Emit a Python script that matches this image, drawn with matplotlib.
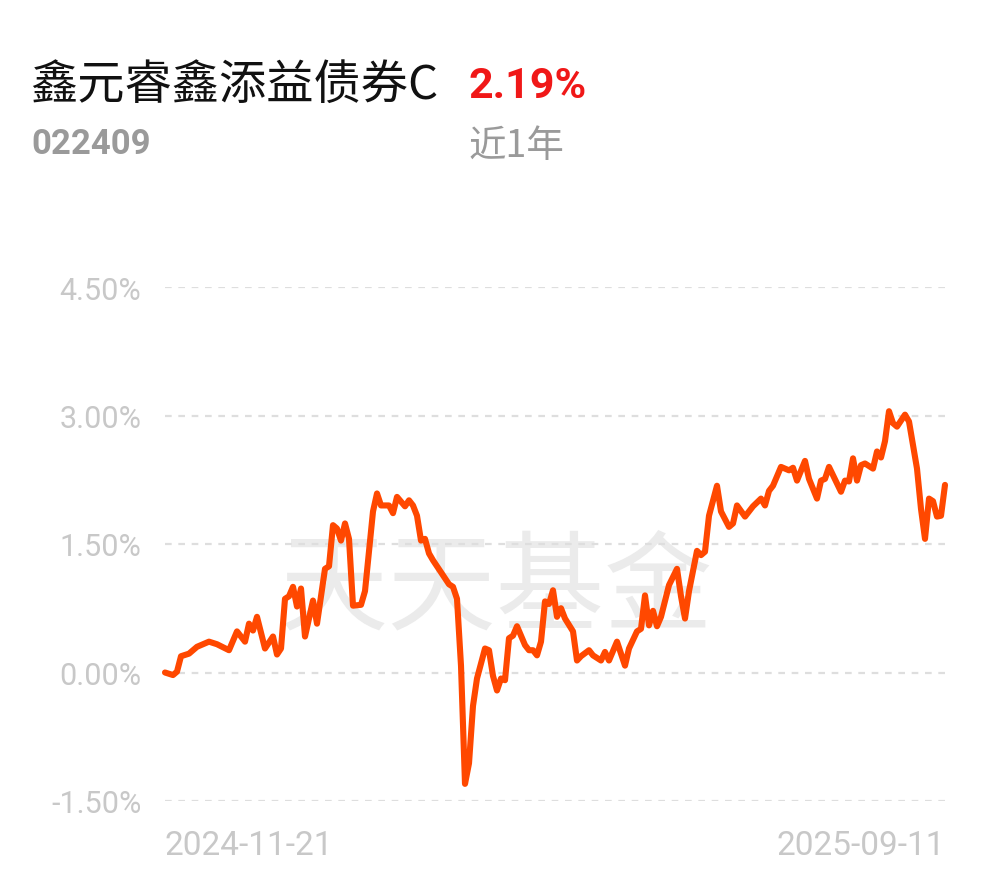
import matplotlib
matplotlib.use('Agg')
from matplotlib import pyplot as plt
from matplotlib.ticker import FuncFormatter

FUND_NAME = '鑫元睿鑫添益债券C'
FUND_CODE = '022409'
RETURN_TEXT = '2.19%'
PERIOD_TEXT = '近1年'
START_DATE = '2024-11-21'
END_DATE = '2025-09-11'
WATERMARK = '天天基金'

# trading-day index and cumulative return (%)
days = [0, 2, 3, 4, 6, 8, 11, 13, 16, 18, 20, 21, 22, 23, 25, 27, 28, 29, 30,
        31, 32, 33, 34, 35, 36, 37, 38, 40, 41, 42, 43, 44, 45, 46, 47, 49, 50,
        51, 52, 53, 54, 56, 57, 58, 60, 61, 62, 63, 64, 65, 66, 67, 68, 70, 71,
        72, 73, 74, 75, 76, 77, 78, 80, 81, 82, 83, 84, 85, 86, 87, 88, 90, 91,
        92, 93, 94, 95, 96, 97, 98, 99, 100, 102, 103, 104, 106, 107, 109, 110,
        111, 113, 115, 116, 118, 119, 120, 121, 122, 123, 124, 126, 128, 129,
        130, 131, 133, 134, 135, 136, 138, 139, 141, 142, 143, 145, 147, 149,
        150, 151, 152, 154, 156, 157, 158, 160, 161, 163, 164, 165, 166, 169,
        170, 171, 172, 173, 174, 175, 177, 178, 179, 180, 181, 182, 183, 185,
        186, 188, 189, 190, 191, 192, 193, 194, 195]
returns = [0.00, -0.03, 0.01, 0.19, 0.22, 0.30, 0.36, 0.33, 0.26, 0.48, 0.36,
           0.57, 0.49, 0.65, 0.28, 0.42, 0.21, 0.28, 0.86, 0.89, 1.00, 0.77,
           0.98, 0.42, 0.63, 0.84, 0.57, 1.21, 1.24, 1.72, 1.68, 1.54, 1.74,
           1.56, 0.78, 0.79, 0.95, 1.41, 1.88, 2.09, 1.95, 1.95, 1.86, 2.05,
           1.94, 2.01, 1.95, 1.83, 1.54, 1.56, 1.39, 1.31, 1.24, 1.10, 1.03,
           1.00, 0.86, 0.08, -1.30, -1.06, -0.39, -0.07, 0.28, 0.26, -0.04,
           -0.21, -0.07, -0.09, 0.40, 0.43, 0.54, 0.32, 0.26, 0.26, 0.20, 0.36,
           0.83, 0.80, 0.96, 0.65, 0.75, 0.63, 0.48, 0.14, 0.19, 0.26, 0.20,
           0.14, 0.24, 0.14, 0.36, 0.08, 0.28, 0.48, 0.51, 0.90, 0.55, 0.72,
           0.54, 0.65, 1.02, 1.21, 0.89, 0.63, 0.95, 1.42, 1.37, 1.41, 1.83,
           2.18, 1.88, 1.70, 1.74, 1.95, 1.82, 1.94, 2.03, 1.95, 2.12, 2.18,
           2.40, 2.36, 2.39, 2.24, 2.47, 2.26, 2.03, 2.24, 2.26, 2.40, 2.11,
           2.24, 2.23, 2.50, 2.24, 2.42, 2.44, 2.38, 2.58, 2.51, 2.70, 3.05,
           2.91, 2.87, 3.01, 2.93, 2.38, 1.91, 1.56, 2.03, 2.00, 1.82, 1.83,
           2.19]
y_ticks = [-1.5, 0.0, 1.5, 3.0, 4.5]

CJK = ['Noto Sans CJK SC', 'DejaVu Sans']
NUM = ['Roboto', 'DejaVu Sans']
LINE_COLOR = '#ff4800'
TICK_COLOR = '#c8c8c8'


def main():
    fig = plt.figure(figsize=(9.9, 8.78), dpi=100)
    ax = fig.add_axes([165 / 990, 1 - 802 / 878, 780 / 990, 514 / 878])

    ax.plot(days, returns, color=LINE_COLOR, linewidth=4.4,
            solid_joinstyle='round', solid_capstyle='round', zorder=3, clip_on=False)

    ax.set_xlim(days[0], days[-1])
    ax.set_ylim(y_ticks[0], y_ticks[-1])
    ax.set_yticks(y_ticks)
    ax.yaxis.set_major_formatter(FuncFormatter(lambda v, _: '{:.2f}%'.format(v)))
    ax.set_xticks([days[0], days[-1]])
    ax.set_xticklabels([START_DATE, END_DATE])
    labels = ax.get_xticklabels()
    labels[0].set_horizontalalignment('left')
    labels[1].set_horizontalalignment('right')

    ax.tick_params(axis='both', length=0, labelcolor=TICK_COLOR)
    ax.tick_params(axis='y', pad=17, labelsize=22)
    ax.tick_params(axis='x', pad=20, labelsize=24)
    for lab in ax.get_xticklabels() + ax.get_yticklabels():
        lab.set_family(NUM)

    for sp in ax.spines.values():
        sp.set_visible(False)
    ax.grid(axis='y', color='#dedede', linestyle=(0, (3, 3)), linewidth=1.6, zorder=1)
    ax.grid(axis='x', visible=False)

    ax.text(0.425, 0.41, WATERMARK, transform=ax.transAxes, ha='center', va='center',
            fontsize=78, fontweight='medium', color='#ebebeb', family=CJK, zorder=0)

    fig.text(30 / 990, 1 - 86 / 878, FUND_NAME, family=CJK, fontsize=34,
             color='#111111', va='center', ha='left')
    fig.text(469 / 990, 1 - 87 / 878, RETURN_TEXT, family=NUM, fontsize=31,
             fontweight='bold', color='#f01818', va='center', ha='left')
    fig.text(31 / 990, 1 - 145 / 878, FUND_CODE, family=NUM, fontsize=25,
             fontweight='bold', color='#9a9a9a', va='center', ha='left')
    fig.text(469 / 990, 1 - 147 / 878, PERIOD_TEXT, family=CJK, fontsize=27,
             color='#9a9a9a', va='center', ha='left')

    fig.savefig('out.png', dpi=100, facecolor='white')


if __name__ == '__main__':
    main()
